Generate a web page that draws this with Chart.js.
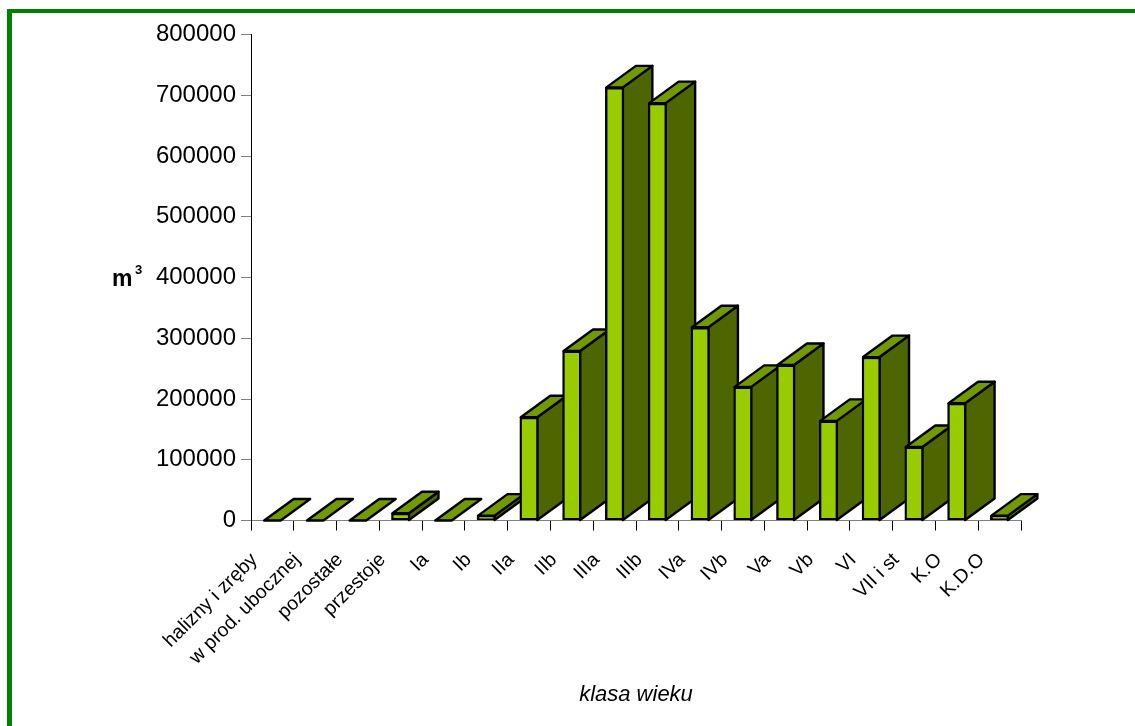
<!DOCTYPE html>
<html lang="pl">
  <head>
    <title>Klasa wieku</title>
    <meta charset="UTF-8" />
    <script src="https://cdn.jsdelivr.net/npm/chart.js"></script>
    <style>
      html,
      body {
        margin: 0;
        background: #fff;
      }
      .block {
        position: relative;
        width: 1135px;
        height: 726px;
        overflow: hidden;
      }
      /* green frame, top and left edges only */
      .frame {
        position: absolute;
        left: 7px;
        top: 9px;
        right: -10px;
        bottom: -10px;
        border: 4px solid #008000;
        border-left-width: 5px;
        pointer-events: none;
      }
    </style>
  </head>
  <body>
    <div class="block">
      <canvas id="chart" width="1135" height="726"></canvas>
      <div class="frame"></div>
    </div>

    <script>
      const categories = [
        'halizny i zręby',
        'w prod. ubocznej',
        'pozostałe',
        'przestoje',
        'Ia',
        'Ib',
        'IIa',
        'IIb',
        'IIIa',
        'IIIb',
        'IVa',
        'IVb',
        'Va',
        'Vb',
        'VI',
        'VII i st',
        'K.O',
        'K.D.O',
      ];
      const volumes = [
        0, 0, 0, 12000, 0, 8000, 170000, 279000, 713000, 687000, 318000, 220000,
        256000, 164000, 269000, 121000, 193000, 8000,
      ];
      const yTicks = [0, 100000, 200000, 300000, 400000, 500000, 600000, 700000, 800000];

      const depthX = 29.5;
      const depthY = 21.5;

      // side and top faces of each bar, left to right, under the front faces
      const bars3d = {
        id: 'bars3d',
        beforeDatasetsDraw(chart) {
          const c = chart.ctx;
          const face = (pts, color) => {
            c.beginPath();
            pts.forEach((p, i) => (i ? c.lineTo(p[0], p[1]) : c.moveTo(p[0], p[1])));
            c.closePath();
            c.fillStyle = color;
            c.fill();
            c.stroke();
          };
          c.save();
          c.strokeStyle = '#000';
          c.lineWidth = 2.4;
          c.lineJoin = 'round';
          chart.getDatasetMeta(0).data.forEach((bar) => {
            const half = bar.width / 2;
            const l = bar.x - half + 1;
            const r = bar.x + half - 1;
            const t = bar.y;
            const b = bar.base;
            if (b - t > 0.5) {
              face(
                [
                  [r, t],
                  [r + depthX, t - depthY],
                  [r + depthX, b - depthY],
                  [r, b],
                ],
                '#4d6600'
              );
            }
            face(
              [
                [l, t],
                [l + depthX, t - depthY],
                [r + depthX, t - depthY],
                [r, t],
              ],
              '#739900'
            );
          });
          c.restore();
        },
      };

      // m3 label beside the value axis
      const unitLabel = {
        id: 'unitLabel',
        afterDraw(chart) {
          const c = chart.ctx;
          c.save();
          c.fillStyle = '#000';
          c.textBaseline = 'alphabetic';
          c.font = 'bold 23px "Liberation Sans"';
          c.fillText('m', 112, 286);
          c.font = 'bold 13px "Liberation Sans"';
          c.fillText('3', 135, 274);
          c.restore();
        },
      };

      const ctx = document.getElementById('chart').getContext('2d');
      const chart = new Chart(ctx, {
        type: 'bar',
        data: {
          labels: categories,
          datasets: [
            {
              label: 'm3',
              data: volumes,
              backgroundColor: '#99cc00',
              borderColor: '#000',
              borderWidth: 2.4,
              borderSkipped: false,
              barThickness: 18.5,
            },
          ],
        },
        options: {
          responsive: false,
          animation: false,
          layout: {
            padding: { top: 34.5, right: 114, left: 0, bottom: 0 },
          },
          plugins: {
            legend: { display: false },
            tooltip: { enabled: false },
          },
          scales: {
            x: {
              afterFit(scale) {
                scale.height = 205.5;
              },
              grid: {
                drawOnChartArea: false,
                color: '#000',
                tickLength: 10,
                tickColor: '#000',
              },
              border: { color: '#808080', width: 1 },
              ticks: {
                autoSkip: false,
                minRotation: 45,
                maxRotation: 45,
                labelOffset: -18,
                padding: 18,
                color: '#000',
                font: { family: '"Liberation Sans"', size: 19.5 },
              },
              title: {
                display: true,
                text: 'klasa wieku',
                color: '#000',
                padding: { top: 4, bottom: 18 },
                font: { family: '"Liberation Sans"', size: 22, style: 'italic' },
              },
            },
            y: {
              min: 0,
              max: 800000,
              afterFit(scale) {
                scale.width = 251;
              },
              afterBuildTicks(scale) {
                scale.ticks = yTicks.map((value) => ({ value }));
              },
              grid: {
                drawOnChartArea: false,
                tickLength: 10,
                tickColor: '#808080',
              },
              border: { color: '#000', width: 1 },
              ticks: {
                padding: 5,
                color: '#000',
                font: { family: '"Liberation Sans"', size: 24 },
                callback: (value) => String(value),
              },
            },
          },
        },
        plugins: [bars3d, unitLabel],
      });
    </script>
  </body>
</html>
